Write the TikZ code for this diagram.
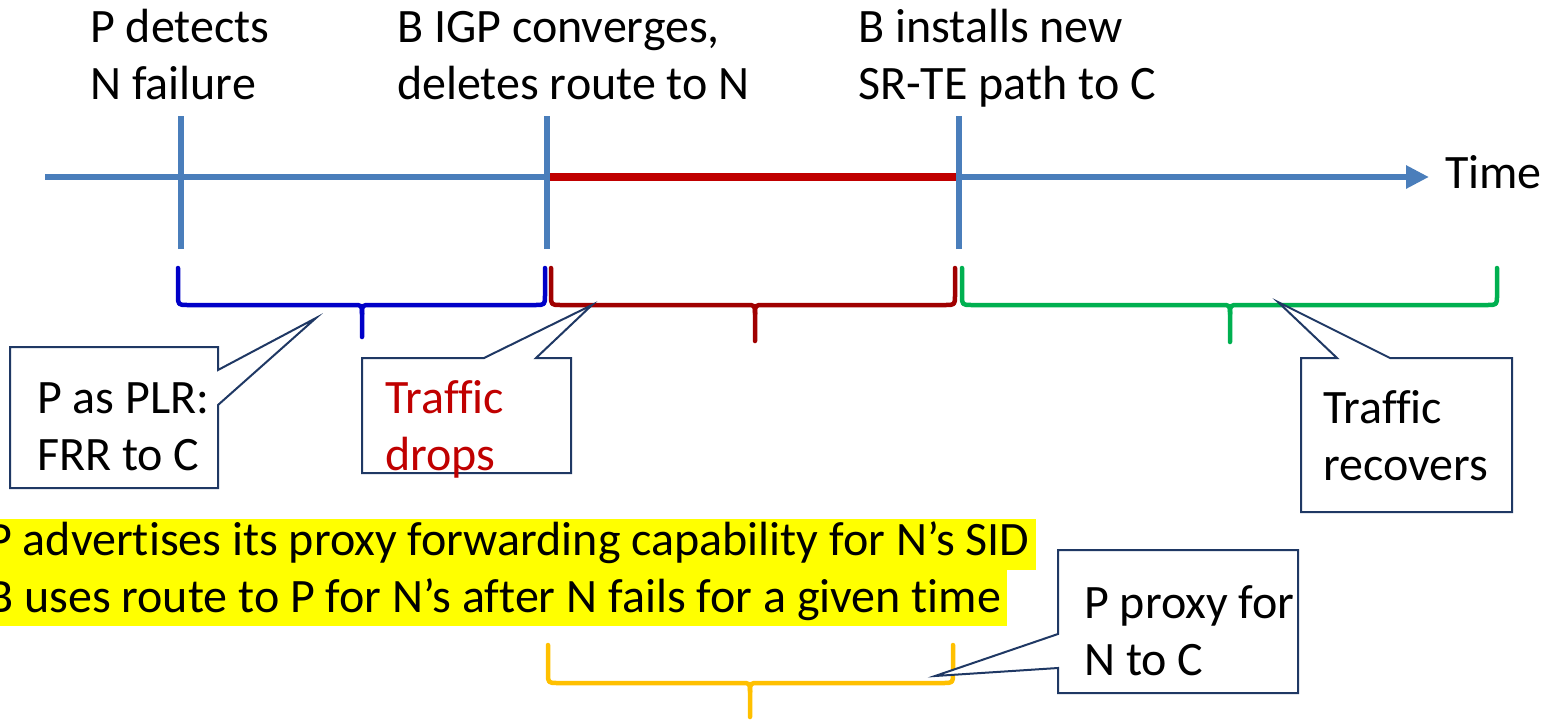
\documentclass[tikz,border=0pt]{standalone}
\usepackage{fontspec}
\setmainfont{Carlito}[Ligatures=NoCommon]
\usetikzlibrary{arrows.meta}

\definecolor{axisblue}{HTML}{4A7EBB}
\definecolor{droppedred}{HTML}{C00000}
\definecolor{frrblue}{HTML}{0000C8}
\definecolor{gapred}{HTML}{A00000}
\definecolor{recgreen}{HTML}{00B050}
\definecolor{proxyorange}{HTML}{FFC000}
\definecolor{boxnavy}{HTML}{1F3864}
\definecolor{hlyellow}{HTML}{FFFF00}

% horizontal curly brace: colour, left x, right x, middle x, top y, line y, tip y
\newcommand\spanbrace[7]{%
  \draw[bracestroke,#1] (#2,#5) -- (#2,#6-10) .. controls (#2,#6) .. (#2+10,#6)
        -- (#4-9,#6) .. controls (#4,#6) .. (#4,#6+9) -- (#4,#7);
  \draw[bracestroke,#1] (#4,#6+9) .. controls (#4,#6) .. (#4+9,#6)
        -- (#3-10,#6) .. controls (#3,#6) .. (#3,#6-10) -- (#3,#5);
}

\begin{document}
\begin{tikzpicture}[x=1pt,y=-1pt,
  % multi-line labels are placed by the baseline of their last line
  lbl/.style={font=\fontsize{48}{57}\selectfont, inner sep=0pt, anchor=base west, align=left},
  hl/.style={lbl, fill=hlyellow, inner xsep=6pt},
  axis/.style={draw=axisblue, line width=6pt},
  tick/.style={draw=axisblue, line width=6.5pt},
  bracestroke/.style={line width=4.5pt, line cap=round, line join=round},
  callbox/.style={draw=boxnavy, fill=white, line width=2pt, line join=miter}]

\useasboundingbox (0,0) rectangle (1556,721);

% time axis
\coordinate (t0) at (45,177);
\coordinate (t1) at (181,177);
\coordinate (t2) at (547,177);
\coordinate (t3) at (959,177);
\coordinate (tend) at (1429,177);
\draw[axis, -{Triangle[length=23pt,width=22pt]}] (t0) -- (tend);
\draw[draw=droppedred, line width=8pt] (t2) -- (t3);
\foreach \t in {t1,t2,t3}
  \draw[tick] ([yshift=-72pt]\t) -- ([yshift=61pt]\t);
\node[lbl] (time) at (1445,188) {Time};

% event labels
\node[lbl] (detect) at (90,99) {P detects\\N failure};
\node[lbl] (igp) at (397,99) {B IGP converges,\\deletes route to N};
\node[lbl] (srte) at (858,99) {B installs new\\SR-TE path to C};

% intervals
\spanbrace{frrblue}{178}{545}{362}{268}{305}{337}
\spanbrace{gapred}{551}{955}{755}{268}{305}{341}
\spanbrace{recgreen}{962}{1497}{1230}{268}{305}{342}
\spanbrace{proxyorange}{548}{953}{750}{645}{683}{717}

% callouts
\coordinate (plrtip) at (316,318);
\coordinate (droptip) at (592,305);
\coordinate (rectip) at (1278,302);
\coordinate (proxytip) at (935,676);

\draw[callbox] (10,347) -- (218,347) -- (218,370) -- (plrtip) -- (218,405)
  -- (218,488) -- (10,488) -- cycle;
\node[lbl] (plr) at (37,470) {P as PLR:\\FRR to C};

\draw[callbox] (362,358) -- (484,358) -- (droptip) -- (536,358) -- (571,358)
  -- (571,473) -- (362,473) -- cycle;
\node[lbl, text=droppedred] (drops) at (385,470) {Traffic\\drops};

\draw[callbox] (1301,358) -- (1337,358) -- (rectip) -- (1390,358) -- (1512,358)
  -- (1512,512) -- (1301,512) -- cycle;
\node[lbl] (recovers) at (1323,480) {Traffic\\recovers};

\draw[callbox] (1058,550) -- (1298,550) -- (1298,693) -- (1058,693) -- (1058,668)
  -- (proxytip) -- (1058,634) -- cycle;
\node[lbl] (proxy) at (1084,675) {P proxy for\\N to C};

% highlighted notes
\node[hl, text height=36pt, text depth=15pt] (adv) at (-19,555)
  {P advertises its proxy forwarding capability for N’s SID};
\node[hl, text height=42pt, text depth=14pt] (uses) at (-19,612)
  {B uses route to P for N’s after N fails for a given time};
\end{tikzpicture}
\end{document}
